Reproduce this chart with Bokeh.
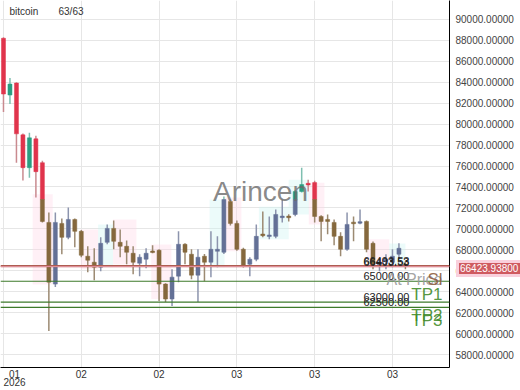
from bokeh.plotting import figure
from bokeh.models import Range1d, FixedTicker, NumeralTickFormatter, Label, Span, ColumnDataSource, Div
from bokeh.layouts import column
from bokeh.embed import file_html
from bokeh.resources import INLINE

# ---------------- data ----------------
opens = [88190, 82775, 83915, 78975, 75840, 78595, 76315, 70615, 64725, 70520,
         69190, 70900, 69760, 67385, 66815, 66340, 68715, 70045, 68715, 68335,
         67670, 66720, 67100, 67860, 67955, 64725, 63300, 65485, 68525, 67575,
         65580, 67385, 66815, 67860, 67765, 72610, 70520, 68050, 66625, 67100,
         69475, 69300, 69285, 71100, 71185, 71375, 73560, 74320, 74415, 71185,
         70900, 70615, 69285, 68050, 70615, 70615, 70710, 68620, 66435, 66900,
         66815, 67575, 66600]
highs = [88300, 84390, 84000, 79100, 79165, 78880, 76500, 71565, 71565, 70995,
         72040, 71000, 69900, 68335, 68145, 69190, 70425, 70805, 69950, 68900,
         68335, 67575, 68145, 68430, 68050, 64800, 66150, 69760, 68620, 68050,
         68050, 67600, 69760, 69285, 73085, 72800, 70800, 68200, 67300, 70425,
         71660, 71185, 71850, 72800, 71400, 73700, 75840, 74700, 74600, 71300,
         71375, 70900, 69665, 71565, 71185, 71850, 70800, 68800, 67100, 67575,
         68050, 68620, 66900]
lows = [81160, 81920, 76315, 74605, 74890, 72990, 70600, 60260, 64440, 67575,
        69000, 68240, 67290, 65865, 65105, 65960, 68525, 68050, 67290, 66625,
        65675, 65485, 66245, 67670, 63110, 63015, 62635, 64915, 66625, 65200,
        63015, 65010, 65390, 66340, 67600, 70330, 67900, 66300, 65485, 66900,
        69190, 69000, 69100, 70615, 70710, 71200, 73465, 73560, 70615, 68810,
        69475, 68430, 67385, 67900, 68810, 70430, 67765, 66150, 65960, 66150,
        66340, 67100, 66150]
closes = [82870, 83820, 79070, 75840, 78690, 75460, 70710, 64915, 70615, 69190,
          70900, 69760, 67480, 67005, 66340, 68620, 70045, 68810, 68335, 67765,
          66815, 67290, 67670, 67765, 64725, 63300, 65390, 68525, 67765, 65580,
          67290, 66815, 68050, 68050, 72800, 70520, 68050, 66435, 67100, 69285,
          69380, 69380, 71375, 71185, 71100, 73560, 74225, 74225, 71185, 70710,
          70710, 69285, 68050, 70425, 70520, 70615, 68050, 66625, 66815, 67100,
          67385, 68145, 66423.938]

# shaded trend zones (candle index span, price span)
zone_start = [4.5, 11.9, 14.6, 16.9, 22.8, 31.8, 34.1, 39.4, 44.0, 47.1, 56.1, 59.5]
zone_end = [7.6, 14.6, 16.9, 20.5, 25.9, 34.1, 36.7, 44.0, 47.1, 49.5, 59.5, 62.0]
zone_top = [73300, 69950, 70425, 70900, 68500, 72800, 73000, 72100, 74700, 74400, 69000, 68600]
zone_bottom = [64700, 66150, 66340, 66600, 63300, 66340, 67860, 69000, 71375, 70425, 66340, 66340]
zone_kind = ["down", "down", "up", "down", "down", "up", "down", "up", "up", "down", "down", "up"]

dim_level = 72800  # candles below this level are drawn dimmed

level_names = ["At Price", "Sl", "TP1", "TP2", "TP3"]
level_values = [66403.53, 66493.53, 65000.00, 63000.00, 62500.00]
current_price = 66423.938

x_tick_pos = [1.7, 12, 24, 36, 48, 60]
x_grid_pos = [0, 12, 24, 36, 48, 60]
x_tick_labels = ["01\n2026", "02", "02", "03", "03", "03"]
y_ticks = [56000, 58000, 60000, 62000, 64000, 66000, 68000, 70000, 72000, 74000,
           76000, 78000, 80000, 82000, 84000, 86000, 88000, 90000, 92000]

title_name = "bitcoin"
title_count = "63/63"

# ---------------- styles ----------------
FONT = "Liberation Sans"
C_UP, C_DN = "#2a9d80", "#e0344c"
C_UP_DIM, C_DN_DIM = "#637096", "#85683d"
W_UP, W_DN = "#7fbfb0", "#c98a8f"
W_UP_DIM, W_DN_DIM = "#8c94ad", "#9c8a72"
MIN_BODY = 150

p = figure(width=520, height=390, output_backend="svg", toolbar_location=None,
           x_range=Range1d(-0.46, 68.8), y_range=Range1d(56765, 91800),
           y_axis_location="right", min_border_left=0, min_border_top=0,
           min_border_right=71, min_border_bottom=21)
p.outline_line_color = None
p.background_fill_color = "white"
p.border_fill_color = "white"

# grid
p.xgrid.ticker = FixedTicker(ticks=x_grid_pos)
p.ygrid.ticker = FixedTicker(ticks=y_ticks)
p.xgrid.grid_line_color = "#e6e6e6"
p.ygrid.grid_line_color = "#e6e6e6"

# zones
zsrc = ColumnDataSource(dict(
    left=zone_start, right=zone_end, top=zone_top, bottom=zone_bottom,
    color=["#ffd3e4" if k == "down" else "#c9f3f1" for k in zone_kind]))
p.quad(left="left", right="right", top="top", bottom="bottom", fill_color="color",
       fill_alpha=0.35, line_color=None, source=zsrc)

# candles split at dim level
wx, wt, wb, wc = [], [], [], []
bx, bt, bb, bc = [], [], [], []
for i, (o, h, l, c) in enumerate(zip(opens, highs, lows, closes)):
    up = c >= o
    top, bot = max(o, c), min(o, c)
    if top - bot < MIN_BODY:
        mid = (top + bot) / 2
        top, bot = mid + MIN_BODY / 2, mid - MIN_BODY / 2
    if h > dim_level:
        wx.append(i); wt.append(h); wb.append(max(l, dim_level)); wc.append(W_UP if up else W_DN)
    if l < dim_level:
        wx.append(i); wt.append(min(h, dim_level)); wb.append(l); wc.append(W_UP_DIM if up else W_DN_DIM)
    if top > dim_level:
        bx.append(i); bt.append(top); bb.append(max(bot, dim_level)); bc.append(C_UP if up else C_DN)
    if bot < dim_level:
        bx.append(i); bt.append(min(top, dim_level)); bb.append(bot); bc.append(C_UP_DIM if up else C_DN_DIM)

p.segment(x0=wx, y0=wb, x1=wx, y1=wt, line_color=wc, line_width=1.5)
p.vbar(x=bx, top=bt, bottom=bb, width=0.62, fill_color=bc, line_color=bc, line_width=0.5)

# level lines
level_line_colors = ["#c86a6a", "#a04e3c", "#3d7a2a", "#3d7a2a", "#3d7a2a"]
for v, col in zip(level_values, level_line_colors):
    p.add_layout(Span(location=v, dimension="width", line_color=col, line_width=1.2))
p.add_layout(Span(location=current_price, dimension="width", line_color="#e69aa6",
                  line_width=1.2, line_alpha=0.8))

# left level labels
for v in level_values:
    p.add_layout(Label(x=363, x_units="screen", y=v, text=f"{v:.2f}", text_font=FONT,
                       text_font_size="11px", text_color="#222222", text_baseline="bottom",
                       y_offset=1))

# right level names
name_colors = ["#9a9a9a", "#8c5a3c", "#3f8a2a", "#3f8a2a", "#3f8a2a"]
for name, v, col in zip(level_names, level_values, name_colors):
    p.add_layout(Label(x=442, x_units="screen", y=v, text=name, text_font=FONT,
                       text_font_size="17px" if name != "At Price" else "16px",
                       text_color=col, text_align="right", text_baseline="top",
                       y_offset=-4, text_alpha=0.9))

# watermark and title
p.add_layout(Label(x=260, y=176, x_units="screen", y_units="screen", text="Arincen",
                   text_font=FONT, text_font_size="28px", text_color="#6a6a6a",
                   text_alpha=0.8, text_align="center", text_baseline="middle"))
p.add_layout(Label(x=9, y=356.5, x_units="screen", y_units="screen", text=title_name,
                   text_font=FONT, text_font_size="10px", text_color="#333333",
                   text_baseline="middle"))
p.add_layout(Label(x=58, y=356.5, x_units="screen", y_units="screen", text=title_count,
                   text_font=FONT, text_font_size="10px", text_color="#333333",
                   text_baseline="middle"))

# axes
yax = p.yaxis[0]
yax.ticker = FixedTicker(ticks=y_ticks)
yax.formatter = NumeralTickFormatter(format="0.00000")
yax.major_label_text_font = FONT
yax.major_label_text_font_size = "10px"
yax.major_label_text_color = "#444444"
yax.major_tick_line_color = None
yax.minor_tick_line_color = None
yax.major_tick_out = 0
yax.major_label_standoff = 6
yax.axis_line_color = "black"

xax = p.xaxis[0]
xax.ticker = FixedTicker(ticks=x_tick_pos)
xax.major_label_overrides = {t: s for t, s in zip(x_tick_pos, x_tick_labels)}
xax.major_label_text_font = FONT
xax.major_label_text_font_size = "10px"
xax.major_label_text_color = "#333333"
xax.major_label_text_line_height = 0.75
xax.major_tick_line_color = None
xax.minor_tick_line_color = None
xax.major_tick_out = 0
xax.major_label_standoff = 1
xax.axis_line_color = "black"

# current price tag over the price axis
tag = Div(text=f"{current_price:.5f}",
          styles={"position": "absolute", "left": "451px", "top": "255px",
                  "background-color": "#cf5a5f", "color": "white",
                  "font-family": FONT, "font-size": "10px", "line-height": "11px",
                  "padding": "0px 2px 0px 1px", "border": "3px solid #f9d0dc",
                  "white-space": "nowrap", "z-index": "10"})

layout = column(p, tag)
open("out.html", "w").write(file_html(layout, INLINE))
